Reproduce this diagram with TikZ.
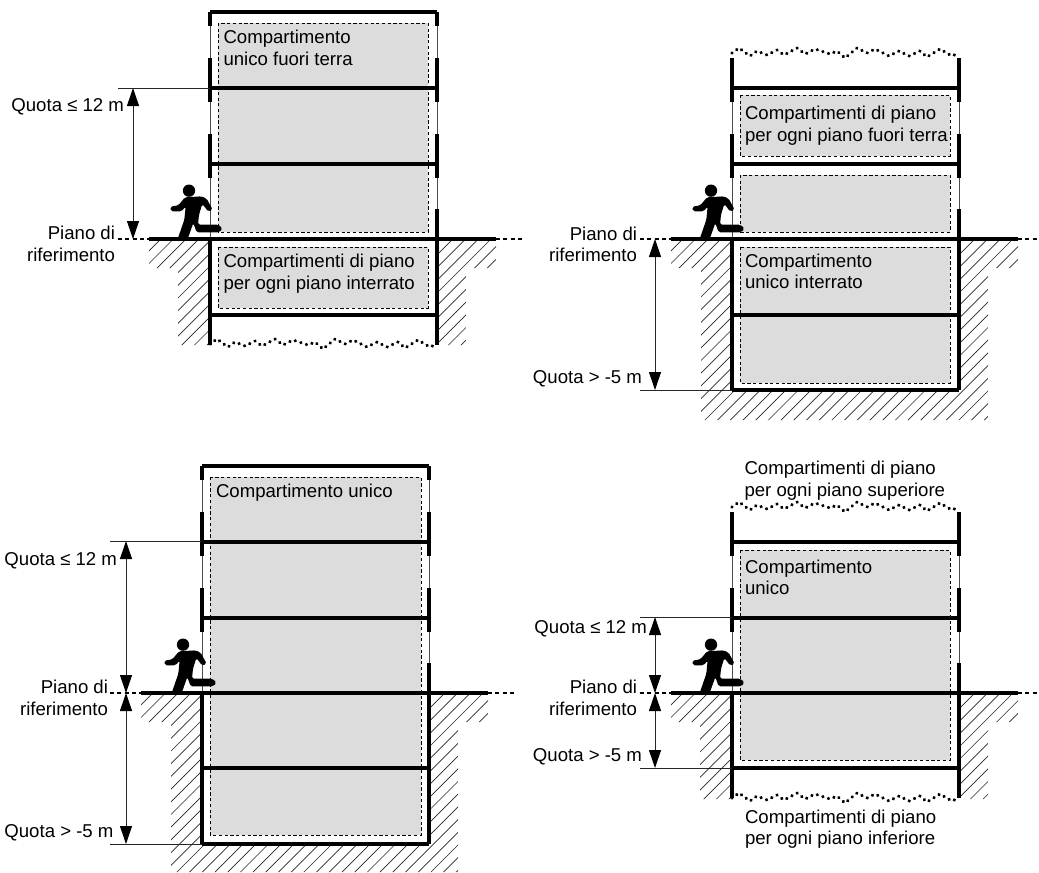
\documentclass[tikz,border=0pt]{standalone}
\usepackage{fontspec}
\setmainfont{Liberation Sans}
\usetikzlibrary{arrows.meta,decorations.markings}
\tikzset{
  x=.75pt,y=-.75pt,
  txt/.style={inner sep=0pt,outer sep=0pt,font=\fontsize{13.95pt}{16.5pt}\selectfont},
  lbl/.style={txt,anchor=base west},
  rlbl/.style={txt,anchor=base east},
  wallthick/.style={line width=2.5pt,line cap=butt},
  wallthin/.style={line width=.7pt,black!70},
  floorline/.style={line width=2.5pt,line cap=butt},
  roofline/.style={line width=2.8pt,line cap=square},
  groundline/.style={line width=2.8pt},
  groundext/.style={line width=.8pt,dash pattern=on 3pt off 2.5pt},
  shade/.style={fill=shadegray,draw=black,line width=.75pt,dash pattern=on 2.4pt off 1.9pt},
  dimline/.style={line width=.75pt,black!85,{Triangle[width=9pt,length=13.5pt,black]}-{Triangle[width=9pt,length=13.5pt,black]}},
  refline/.style={line width=.75pt,black!85},
  hatchline/.style={line width=.5pt,black!85},
  wiggle/.style={postaction={decorate},decoration={markings,mark=between positions 0 and 1 step 4.4pt with {\fill (0,0) circle (1.35pt);}}},
}
\definecolor{shadegray}{HTML}{DCDCDC}
\newcommand{\hatchlines}{\foreach \hc in {-300,-287.3,...,340}{\draw[hatchline] (\hc,200)--(\hc+200,0);}}
% hatch: open basement
\newcommand{\hatchopen}{\begin{scope}
  \clip (-61,2)--(-61,29)--(-32,29)--(-32,106)--(0,106)--(0,2)--cycle
        (227,2)--(227,106)--(256,106)--(256,29)--(286,29)--(286,2)--cycle;
  \hatchlines\end{scope}}
% hatch: closed basement
\newcommand{\hatchclosed}[1]{\begin{scope}
  \clip (-61,2)--(-61,29)--(-31,29)--(-31,#1)--(256,#1)--(256,29)--(286,29)--(286,2)--(227,2)--(227,150)--(0,150)--(0,2)--cycle;
  \hatchlines\end{scope}}
\newcommand{\person}[1]{\begin{scope}[shift={(#1-45,-61)},x=.25pt,y=-.25pt]
  \fill (72,38) circle (18.5);
  \fill[rounded corners=1.3pt] (16,86)--(40,82)--(60,58)--(110,55)--(125,62)--(143,95)--(130,101)--(112,78)--(102,110)--(99,140)--(160,140)--(173,152)--(162,163)--(95,163)--(85,135)--(68,183)--(38,183)--(58,125)--(62,85)--(50,100)--(18,100)--cycle;
\end{scope}}
% upper walls, shared
\newcommand{\upperwalls}{
  \foreach \w in {0,227}{
    \draw[wallthin] (\w,-181)--(\w,0);
    \draw[wallthick] (\w,-181)--(\w,-137);
    \draw[wallthick] (\w,-105)--(\w,-61);
  }
  \draw[wallthick] (227,-30)--(227,0);
  \draw[floorline] (0,-151)--(227,-151);
  \draw[floorline] (0,-75)--(227,-75);
}
\newcommand{\roof}{
  \foreach \w in {0,227}{
    \draw[wallthin] (\w,-213)--(\w,-181);
    \draw[wallthick] (\w,-227)--(\w,-213);
  }
  \draw[roofline] (0,-227)--(227,-227);
}
\newcommand{\wigglepath}[1]{
  \path[wiggle] (0,#1) -- (7,#1-5) -- (18,#1+3) -- (25,#1-2) -- (35,#1+2) -- (45,#1-3) -- (52,#1+2) -- (65,#1-5) -- (73,#1+1) -- (83,#1-4) -- (98,#1+1) -- (105,#1-2) -- (113,#1+5) -- (125,#1-5) -- (135,#1) -- (143,#1-4) -- (157,#1+3) -- (167,#1-2) -- (177,#1+3) -- (188,#1-2) -- (195,#1+4) -- (208,#1-4) -- (220,#1+3) -- (227,#1);
}
\newcommand{\ground}{
  \draw[groundline] (-61,0)--(286,0);
  \draw[groundext] (-92,0)--(-61,0);
  \draw[groundext] (286,0)--(313,0);
}
\begin{document}
\begin{tikzpicture}
\useasboundingbox (0,0) rectangle (1039,872);

% ---------- Panel A ----------
\begin{scope}[shift={(210,239)}]
  \hatchopen
  \path[shade] (8,-216) rectangle (218,-7);
  \path[shade] (8,8) rectangle (218,69);
  \upperwalls\roof
  \person{0}
  \draw[floorline] (0,76)--(227,76);
  \foreach \w in {0,227}{\draw[wallthick] (\w,0)--(\w,106);}
  \wigglepath{105}
  \ground
  \coordinate (a1) at (-77,-151); \coordinate (a2) at (-77,0);
  \coordinate (a3) at (-92,-151); \coordinate (a4) at (0,-151);
  \draw[refline] (a3)--(a4);
  \draw[dimline] (a1)--(a2);
\end{scope}
\node[lbl] (at1) at (223.5,43) {Compartimento};
\node[lbl] (at2) at (223.5,65) {unico fuori terra};
\node[lbl] (at3) at (223.5,267) {Compartimenti di piano};
\node[lbl] (at4) at (223.5,289) {per ogni piano interrato};
\node[rlbl] (at5) at (124,111) {Quota ≤ 12 m};
\node[rlbl] (at6) at (115,239) {Piano di};
\node[rlbl] (at7) at (115,261) {riferimento};

% ---------- Panel B ----------
\begin{scope}[shift={(732,239)}]
  \hatchclosed{181}
  \path[shade] (8,-144) rectangle (218,-83);
  \path[shade] (8,-64) rectangle (218,-7);
  \path[shade] (8,8) rectangle (218,144);
  \upperwalls
  \person{0}
  \wigglepath{-186}
  \draw[floorline] (0,76)--(227,76);
  \draw[roofline] (0,151)--(227,151);
  \foreach \w in {0,227}{\draw[wallthick] (\w,0)--(\w,151);}
  \ground
  \coordinate (b1) at (-77,0); \coordinate (b2) at (-77,151);
  \coordinate (b3) at (-92,151); \coordinate (b4) at (0,151);
  \draw[refline] (b3)--(b4);
  \draw[dimline] (b1)--(b2);
\end{scope}
\node[lbl] (bt1) at (745,119) {Compartimenti di piano};
\node[lbl] (bt2) at (745,141) {per ogni piano fuori terra};
\node[lbl] (bt3) at (745,267) {Compartimento};
\node[lbl] (bt4) at (745,288.5) {unico interrato};
\node[rlbl] (bt5) at (637,240) {Piano di};
\node[rlbl] (bt6) at (637,261) {riferimento};
\node[rlbl] (bt7) at (642,383) {Quota > -5 m};

% ---------- Panel C ----------
\begin{scope}[shift={(202,693)}]
  \hatchclosed{179}
  \path[shade] (8,-216) rectangle (219,142);
  \upperwalls\roof
  \person{2}
  \draw[floorline] (0,75)--(227,75);
  \draw[roofline] (0,151)--(227,151);
  \foreach \w in {0,227}{\draw[wallthick] (\w,0)--(\w,151);}
  \ground
  \coordinate (c1) at (-76,-152); \coordinate (c2) at (-76,0); \coordinate (c5) at (-76,151);
  \coordinate (c3) at (-92,-152); \coordinate (c4) at (0,-152);
  \coordinate (c6) at (-92,151); \coordinate (c7) at (0,151);
  \draw[refline] (c3)--(c4);
  \draw[refline] (c6)--(c7);
  \draw[dimline] (c1)--(c2);
  \draw[dimline] (c2)--(c5);
\end{scope}
\node[lbl] (ct1) at (216,497) {Compartimento unico};
\node[rlbl] (ct2) at (117,565) {Quota ≤ 12 m};
\node[rlbl] (ct3) at (108,693) {Piano di};
\node[rlbl] (ct4) at (108,715) {riferimento};
\node[rlbl] (ct5) at (113.5,837) {Quota > -5 m};

% ---------- Panel D ----------
\begin{scope}[shift={(732,693)}]
  \hatchopen
  \path[shade] (8,-143) rectangle (218,67);
  \upperwalls
  \person{0}
  \wigglepath{-186}
  \draw[floorline] (0,75)--(227,75);
  \foreach \w in {0,227}{\draw[wallthick] (\w,0)--(\w,105);}
  \wigglepath{105}
  \ground
  \coordinate (d1) at (-77,-76); \coordinate (d2) at (-77,0); \coordinate (d5) at (-77,75);
  \coordinate (d3) at (-92,-76); \coordinate (d4) at (0,-76);
  \coordinate (d6) at (-92,75); \coordinate (d7) at (0,75);
  \draw[refline] (d3)--(d4);
  \draw[refline] (d6)--(d7);
  \draw[dimline] (d1)--(d2);
  \draw[dimline] (d2)--(d5);
\end{scope}
\node[lbl] (dt1) at (744.5,474) {Compartimenti di piano};
\node[lbl] (dt2) at (744.5,496) {per ogni piano superiore};
\node[lbl] (dt3) at (745,573) {Compartimento};
\node[lbl] (dt4) at (745,594) {unico};
\node[rlbl] (dt5) at (647,633) {Quota ≤ 12 m};
\node[rlbl] (dt6) at (637,693) {Piano di};
\node[rlbl] (dt7) at (637,715) {riferimento};
\node[rlbl] (dt8) at (642,761) {Quota > -5 m};
\node[lbl] (dt9) at (745,823) {Compartimenti di piano};
\node[lbl] (dt10) at (745,844) {per ogni piano inferiore};
\end{tikzpicture}
\end{document}
